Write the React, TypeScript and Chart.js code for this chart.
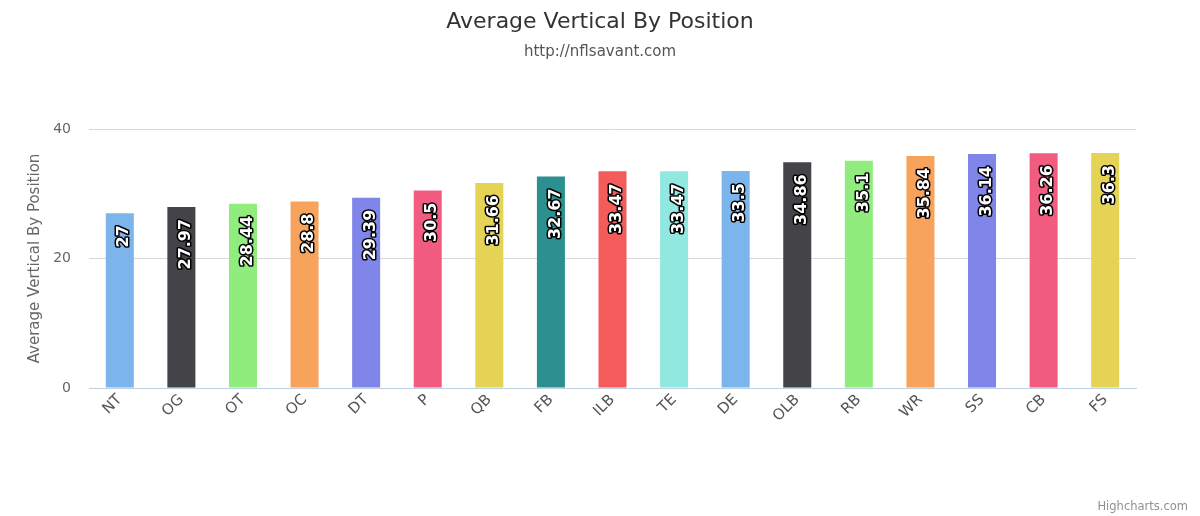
import { useEffect, useRef } from "react";
import { Chart, registerables } from "chart.js";

Chart.register(...registerables);

const categories = ["NT", "OG", "OT", "OC", "DT", "P", "QB", "FB", "ILB", "TE", "DE", "OLB", "RB", "WR", "SS", "CB", "FS"];
const values = [27, 27.97, 28.44, 28.8, 29.39, 30.5, 31.66, 32.67, 33.47, 33.47, 33.5, 34.86, 35.1, 35.84, 36.14, 36.26, 36.3];
const palette = ["#7cb5ec", "#434348", "#90ed7d", "#f7a35c", "#8085e9", "#f15c80", "#e4d354", "#2b908f", "#f45b5b", "#91e8e1"];
const yTicks = [0, 20, 40];
const titleText = "Average Vertical By Position";
const subtitleText = "http://nflsavant.com";
const yAxisTitle = "Average Vertical By Position";
const creditText = "Highcharts.com";

const FONT = "'DejaVu Sans', 'Lucida Grande', Verdana, sans-serif";

const decorPlugin = {
  id: "decor",
  afterDraw(chart: any) {
    const ctx = chart.ctx;
    ctx.save();
    ctx.textAlign = "center";
    ctx.textBaseline = "middle";
    ctx.fillStyle = "#333333";
    ctx.font = `22px ${FONT}`;
    ctx.fillText(titleText, 600, 22);
    ctx.fillStyle = "#555555";
    ctx.font = `15px ${FONT}`;
    ctx.fillText(subtitleText, 600, 52);
    ctx.textAlign = "right";
    ctx.fillStyle = "#909090";
    ctx.font = `11.5px ${FONT}`;
    ctx.fillText(creditText, 1188, 507);
    ctx.restore();
  },
};

const labelPlugin = {
  id: "barLabels",
  afterDatasetsDraw(chart: any) {
    const ctx = chart.ctx;
    const meta = chart.getDatasetMeta(0);
    ctx.save();
    ctx.font = `bold 16px ${FONT}`;
    ctx.textAlign = "right";
    ctx.textBaseline = "middle";
    ctx.lineJoin = "round";
    meta.data.forEach((el: any, i: number) => {
      const txt = String(values[i]);
      ctx.save();
      ctx.translate(el.x + 4.5, el.y + 12);
      ctx.rotate(-Math.PI / 2);
      ctx.strokeStyle = "#000000";
      ctx.lineWidth = 3;
      ctx.strokeText(txt, 0, 0);
      ctx.fillStyle = "#ffffff";
      ctx.fillText(txt, 0, 0);
      ctx.restore();
    });
    ctx.restore();
  },
};

export default function App() {
  const ref = useRef<HTMLCanvasElement | null>(null);
  useEffect(() => {
    if (!ref.current) return;
    const chart = new Chart(ref.current, {
      type: "bar",
      data: {
        labels: categories,
        datasets: [
          {
            data: values,
            backgroundColor: categories.map((_, i) => palette[i % palette.length]),
            borderWidth: 0,
            categoryPercentage: 1,
            barPercentage: 0.455,
          },
        ],
      },
      options: {
        animation: false,
        responsive: true,
        maintainAspectRatio: false,
        layout: { padding: { top: 129, right: 64, left: 0, bottom: 0 } },
        plugins: {
          legend: { display: false },
          tooltip: { enabled: false },
          title: { display: false },
        },
        scales: {
          x: {
            grid: { display: false, drawTicks: false },
            border: { display: true, color: "#C0D0E0", width: 1 },
            ticks: {
              color: "#555555",
              font: { family: FONT, size: 15 },
              minRotation: 45,
              maxRotation: 45,
              padding: 3,
              autoSkip: false,
            },
            afterFit: (s: any) => {
              s.height = 128;
            },
          },
          y: {
            min: 0,
            max: 40,
            afterBuildTicks: (s: any) => {
              s.ticks = yTicks.map((v) => ({ value: v }));
            },
            grid: {
              color: (c: any) => (c.tick && c.tick.value === 0 ? "rgba(0,0,0,0)" : "#D8D8D8"),
              drawTicks: false,
            },
            border: { display: false },
            ticks: {
              color: "#666666",
              font: { family: FONT, size: 14 },
              padding: 18,
            },
            title: {
              display: true,
              text: yAxisTitle,
              color: "#666666",
              font: { family: FONT, size: 15, weight: "normal" },
              padding: { top: 26, bottom: 0 },
            },
            afterFit: (s: any) => {
              s.width = 89;
            },
          },
        },
      },
      plugins: [decorPlugin, labelPlugin],
    });
    return () => chart.destroy();
  }, []);
  return (
    <div style={{ position: "fixed", left: 0, top: 0, width: 1200, height: 516, background: "#ffffff" }}>
      <canvas ref={ref} />
    </div>
  );
}
